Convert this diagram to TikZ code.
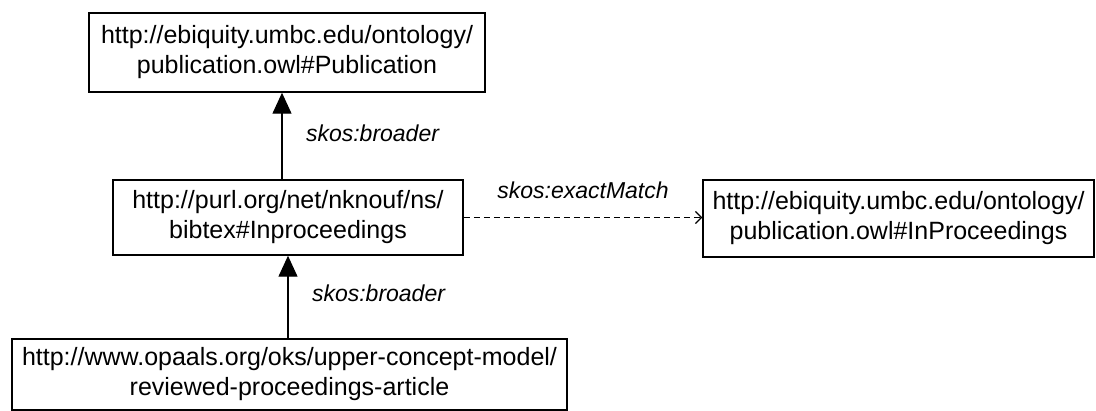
\documentclass[tikz,border=0pt]{standalone}
\usepackage{fontspec}
\setmainfont{Liberation Sans}
\usetikzlibrary{arrows.meta}
\tikzset{
  concept/.style={draw, line width=1.5pt, inner sep=0pt, align=center,
    font=\fontsize{25}{30}\selectfont},
  rel/.style={font=\fontsize{23}{26}\selectfont\itshape},
  broader/.style={line width=1.4pt, -{Triangle[length=21pt,width=19pt]}},
  match/.style={line width=1.2pt, dash pattern=on 6pt off 4pt,
    -{Straight Barb[length=6pt,width=12pt]}}
}
\begin{document}
\begin{tikzpicture}[x=1pt,y=-1pt]
      \useasboundingbox (0,0) rectangle (1096,411);
      \draw
        (287,52.5) node[concept, minimum width=396pt, minimum height=79pt] (pub)
          {http://ebiquity.umbc.edu/ontology/\\publication.owl\#Publication}
        (288,217.5) node[concept, minimum width=350pt, minimum height=75pt] (inproc)
          {http://purl.org/net/nknouf/ns/\\bibtex\#Inproceedings}
        (898.5,218.5) node[concept, minimum width=391pt, minimum height=77pt] (ebinproc)
          {http://ebiquity.umbc.edu/ontology/\\publication.owl\#InProceedings}
        (289.5,374.5) node[concept, minimum width=555pt, minimum height=71pt] (article)
          {http://www.opaals.org/oks/upper-concept-model/\\reviewed-proceedings-article};
      \begin{scope}
        \draw[broader] ([xshift=-6pt]inproc.north) to
          node[right=20pt, yshift=3pt, rel] (broader1) {skos:broader}
          ([xshift=-6pt]inproc.north |- pub.south);
        \draw[broader] (inproc.south |- article.north) to
          node[right=20pt, yshift=4pt, rel] (broader2) {skos:broader}
          (inproc.south);
        \draw[match] (inproc.east) to
          node[above=27pt, rel, anchor=center] (exact) {skos:exactMatch}
          (inproc.east -| ebinproc.west);
      \end{scope}
    \end{tikzpicture}
\end{document}
